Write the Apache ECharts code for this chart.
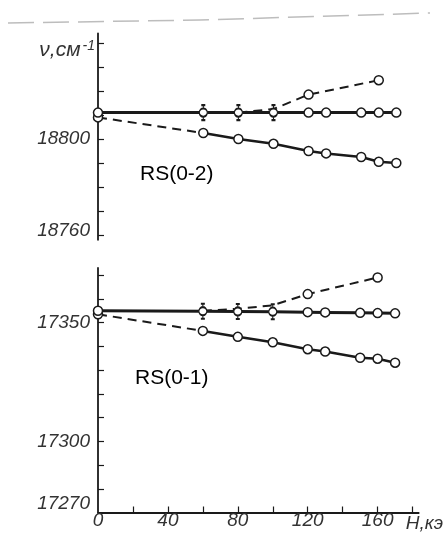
<!DOCTYPE html>
<html>
<head>
<meta charset="utf-8">
<script src="https://cdn.jsdelivr.net/npm/echarts@6/dist/echarts.min.js"></script>
<style>
  html, body { margin: 0; padding: 0; background: #fff; }
  #chart { width: 444px; height: 539px; }
</style>
</head>
<body>
<div id="chart"></div>
<script>
// Magnetic field H, kOe
const fieldH = [0, 60, 80, 100, 120, 130, 150, 160, 170];
const riseH02 = [80, 100, 120, 160];
const riseH01 = [60, 80, 100, 120, 160];
const cappedH = [60, 80, 100];

// RS(0-2) band, wavenumber in cm^-1
const rs02Flat  = [18811, 18811, 18811, 18811, 18811, 18811, 18811, 18811, 18811];
const rs02Lower = [18809, 18802.5, 18800, 18798, 18795, 18794, 18792.5, 18790.5, 18790];
const rs02Upper = [18811, 18812.5, 18818.5, 18824.5];

// RS(0-1) band, wavenumber in cm^-1
const rs01Flat  = [17355, 17354.8, 17354.7, 17354.6, 17354.4, 17354.3, 17354.1, 17354, 17353.9];
const rs01Lower = [17353.5, 17346.5, 17344, 17341.7, 17338.8, 17337.8, 17335.2, 17334.8, 17333.1];
const rs01Upper = [17355, 17355.8, 17357.3, 17362, 17369];

// Axis ticks and labels
const hTicks  = [20, 40, 60, 80, 100, 120, 140, 160, 180];
const hLabels = [0, 40, 80, 120, 160];
const rs02Ticks  = [18760, 18770, 18780, 18790, 18800, 18810, 18820, 18830, 18840];
const rs02Labels = [18760, 18800];
const rs01Ticks  = [17280, 17290, 17300, 17310, 17320, 17330, 17340, 17350, 17360, 17370];
const rs01Labels = [17270, 17300, 17350];

const INK = '#1a1a1a';
const LABEL_INK = '#333';
const FONT = '"Liberation Sans", Arial, sans-serif';

// circle with small error-bar caps above and below
const cappedSymbol = 'path://M10,8 A6,6 0 1 1 9.99,8 Z M10,3 L10,8 M10,20 L10,25 M7,3 L13,3 M7,25 L13,25';

const markerStyle = { color: '#fff', borderColor: INK, borderWidth: 1.5 };

function pairs(xs, ys) { return xs.map((x, i) => [x, ys[i]]); }

function flatSeries(values, axis) {
  return {
    type: 'line', xAxisIndex: axis, yAxisIndex: axis,
    data: fieldH.map((h, i) => cappedH.includes(h)
      ? { value: [h, values[i]], symbol: cappedSymbol, symbolSize: [8, 15] }
      : { value: [h, values[i]] }),
    symbol: 'circle', symbolSize: 9, showAllSymbol: true,
    lineStyle: { color: INK, width: 3 },
    itemStyle: markerStyle, z: 4, animation: false
  };
}

function lowerSeries(values, axis) {
  const pts = pairs(fieldH, values);
  return [
    {
      type: 'line', xAxisIndex: axis, yAxisIndex: axis,
      data: [{ value: pts[0] }, { value: pts[1], symbol: 'none' }],
      symbol: 'circle', symbolSize: 9, showAllSymbol: true,
      lineStyle: { color: INK, width: 2, type: [9, 6] },
      itemStyle: markerStyle, z: 3, animation: false
    },
    {
      type: 'line', xAxisIndex: axis, yAxisIndex: axis,
      data: pts.slice(1), symbol: 'circle', symbolSize: 9, showAllSymbol: true,
      lineStyle: { color: INK, width: 2.5 }, itemStyle: markerStyle, z: 3, animation: false
    }
  ];
}

function upperSeries(xs, values, axis) {
  const marked = xs.slice(-2);
  return {
    type: 'line', xAxisIndex: axis, yAxisIndex: axis,
    data: xs.map((h, i) => marked.includes(h)
      ? { value: [h, values[i]] }
      : { value: [h, values[i]], symbol: 'none' }),
    symbol: 'circle', symbolSize: 9, showAllSymbol: true,
    lineStyle: { color: INK, width: 2, type: [9, 6] },
    itemStyle: markerStyle, z: 2, animation: false
  };
}

const labelStyle = { fontFamily: FONT, fontStyle: 'italic', fontSize: 19, color: LABEL_INK };

const chart = echarts.init(document.getElementById('chart'), null, { renderer: 'canvas' });

chart.setOption({
  backgroundColor: '#fff',
  animation: false,
  grid: [
    { left: 98, top: 33.4, width: 322, height: 206.4 },
    { left: 98, top: 268, width: 322, height: 244.5 }
  ],
  xAxis: [
    { gridIndex: 0, type: 'value', min: 0, max: 183.5, show: false, splitLine: { show: false } },
    {
      gridIndex: 1, type: 'value', min: 0, max: 183.5,
      axisLine: { show: true, lineStyle: { color: INK, width: 1.8 } },
      axisTick: { show: true, inside: true, length: 6, customValues: hTicks, lineStyle: { color: INK, width: 1.2 } },
      axisLabel: Object.assign({ customValues: hLabels, margin: -1, formatter: v => String(v) }, labelStyle),
      splitLine: { show: false },
      name: 'H,кэ', nameLocation: 'end', nameGap: -13,
      nameTextStyle: Object.assign({ align: 'left', verticalAlign: 'top', padding: [2, 0, 0, 0] }, labelStyle)
    }
  ],
  yAxis: [
    {
      gridIndex: 0, type: 'value', min: 18758, max: 18844,
      axisLine: { show: true, lineStyle: { color: INK, width: 1.8 } },
      axisTick: { show: true, inside: true, length: 6, customValues: rs02Ticks, lineStyle: { color: INK, width: 1.2 } },
      axisLabel: Object.assign({
        customValues: rs02Labels, margin: 8,
        formatter: v => v === rs02Labels[0] ? '{hi|' + v + '}' : String(v),
        rich: { hi: Object.assign({ padding: [0, 0, 9, 0] }, labelStyle) }
      }, labelStyle),
      splitLine: { show: false },
      name: '{a|ν,см}{s|-1}', nameLocation: 'end', nameGap: -17,
      nameTextStyle: {
        align: 'right', verticalAlign: 'middle', padding: [0, 3, 0, 0],
        rich: {
          a: { fontFamily: FONT, fontStyle: 'italic', fontSize: 21, color: LABEL_INK },
          s: { fontFamily: FONT, fontStyle: 'italic', fontSize: 14, color: LABEL_INK, verticalAlign: 'top', padding: [0, 0, 9, 2] }
        }
      }
    },
    {
      gridIndex: 1, type: 'value', min: 17270, max: 17373,
      axisLine: { show: true, lineStyle: { color: INK, width: 1.8 } },
      axisTick: { show: true, inside: true, length: 6, customValues: rs01Ticks, lineStyle: { color: INK, width: 1.2 } },
      axisLabel: Object.assign({
        customValues: rs01Labels, margin: 8,
        formatter: v => v === rs01Labels[0] ? '{lo|' + v + '}' : String(v),
        rich: { lo: Object.assign({ padding: [0, 0, 18, 0] }, labelStyle) }
      }, labelStyle),
      splitLine: { show: false }
    }
  ],
  graphic: [
    {
      type: 'polyline', silent: true, z: -1,
      shape: { points: [[8, 23], [200, 20], [430, 13]] },
      style: { stroke: '#bdbdbd', lineWidth: 1.5, lineDash: [26, 9], fill: null }
    },
    {
      type: 'text', left: 140, top: 164,
      style: { text: 'RS(0-2)', font: '21px "Liberation Sans", Arial, sans-serif', fill: '#000' }
    },
    {
      type: 'text', left: 135, top: 368,
      style: { text: 'RS(0-1)', font: '21px "Liberation Sans", Arial, sans-serif', fill: '#000' }
    }
  ],
  series: [
    upperSeries(riseH02, rs02Upper, 0),
    ...lowerSeries(rs02Lower, 0),
    flatSeries(rs02Flat, 0),
    upperSeries(riseH01, rs01Upper, 1),
    ...lowerSeries(rs01Lower, 1),
    flatSeries(rs01Flat, 1)
  ]
});
</script>
</body>
</html>
